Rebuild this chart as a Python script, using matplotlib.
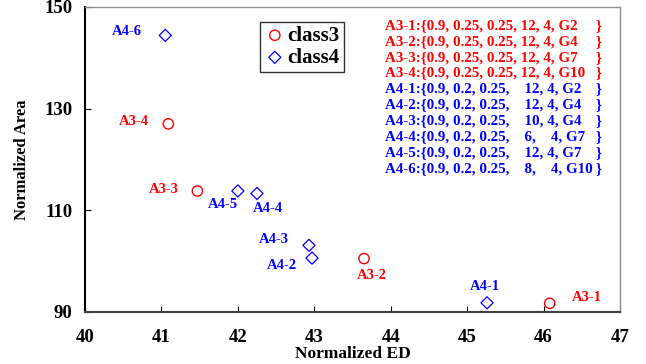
import matplotlib.pyplot as plt

# data
class3_names = ['A3-1', 'A3-2', 'A3-3', 'A3-4']
class3_ed = [46.08, 43.65, 41.47, 41.09]
class3_area = [91.7, 100.5, 113.8, 127.0]

class4_names = ['A4-1', 'A4-2', 'A4-3', 'A4-4', 'A4-5', 'A4-6']
class4_ed = [45.26, 42.97, 42.93, 42.25, 42.00, 41.05]
class4_area = [91.8, 100.6, 103.1, 113.3, 113.8, 144.4]

# label offsets in points (dx, dy) for each point
class3_offsets = [(27, 4), (6, -12), (-24, 1), (-24.5, 1.5)]
class4_offsets = [(-1.5, 11.5), (-22, -5), (-25, 4.5), (8, -11), (-11, -10), (-28, 3)]

class3_params = ['0.9, 0.25, 0.25, 12, 4, G2', '0.9, 0.25, 0.25, 12, 4, G4',
                 '0.9, 0.25, 0.25, 12, 4, G7', '0.9, 0.25, 0.25, 12, 4, G10']
class4_params = ['0.9, 0.2, 0.25,    12, 4, G2', '0.9, 0.2, 0.25,    12, 4, G4',
                 '0.9, 0.2, 0.25,    10, 4, G4', '0.9, 0.2, 0.25,    6,    4, G7',
                 '0.9, 0.2, 0.25,    12, 4, G7', '0.9, 0.2, 0.25,    8,    4, G10']

plt.rcParams['font.family'] = 'Liberation Serif'
plt.rcParams['font.weight'] = 'bold'

fig = plt.figure(figsize=(6.46, 3.64), dpi=100)
ax = fig.add_axes([0.1316, 0.143, 0.8282, 0.838])

ax.scatter(class3_ed, class3_area, s=55, marker='o', facecolors='none',
           edgecolors='red', linewidths=1.0, label='class3', zorder=3)
ax.scatter(class4_ed, class4_area, s=38, marker='D', facecolors='none',
           edgecolors='blue', linewidths=0.9, label='class4', zorder=3)

for name, x, y, off in zip(class3_names, class3_ed, class3_area, class3_offsets):
    ax.annotate(name, (x, y), xytext=off, textcoords='offset points',
                ha='center', va='center', color='red', fontsize=10.5, fontweight='bold')
for name, x, y, off in zip(class4_names, class4_ed, class4_area, class4_offsets):
    ax.annotate(name, (x, y), xytext=off, textcoords='offset points',
                ha='center', va='center', color='blue', fontsize=10.5, fontweight='bold')

# parameter list at top right
lines = [(n, p, 'red') for n, p in zip(class3_names, class3_params)] + \
        [(n, p, 'blue') for n, p in zip(class4_names, class4_params)]
for i, (n, p, c) in enumerate(lines):
    y = 1 - 25.4 / 364 - i * 15.9 / 364
    fig.text(385 / 646, y, f'{n}:{{{p}', color=c, fontsize=10.8, fontweight='bold',
             ha='left', va='center')
    fig.text(598 / 646, y, '}', color=c, fontsize=10.8, fontweight='bold',
             ha='center', va='center')

ax.set_xlim(40, 47)
ax.set_ylim(90, 150)
ax.set_xticks(range(40, 48))
ax.set_yticks([90, 110, 130, 150])
ax.tick_params(axis='x', direction='in', length=4, labelsize=13.5, pad=12)
ax.tick_params(axis='y', direction='in', length=4.5, labelsize=13.5, pad=9)
ax.spines['left'].set_linewidth(1.5)
ax.spines['bottom'].set_linewidth(1.5)
ax.spines['bottom'].set_color('#404040')
ax.spines['top'].set_linewidth(1.0)
ax.spines['top'].set_color('#909090')
ax.spines['right'].set_linewidth(1.0)
ax.spines['right'].set_color('#909090')

ax.set_xlabel('Normalized ED', fontsize=12.5, fontweight='bold', labelpad=0)
ax.set_ylabel('Normalized Area', fontsize=12, fontweight='bold', labelpad=10)

leg = ax.legend(loc='upper left', bbox_to_anchor=(0.3275, 0.952),
                frameon=True, fancybox=False, edgecolor='black',
                handletextpad=0.1, borderpad=0.2, labelspacing=0.1, handlelength=1.0,
                borderaxespad=0, prop={'weight': 'bold', 'size': 15})
leg.get_frame().set_linewidth(1.0)

plt.savefig('out.png', dpi=100)
